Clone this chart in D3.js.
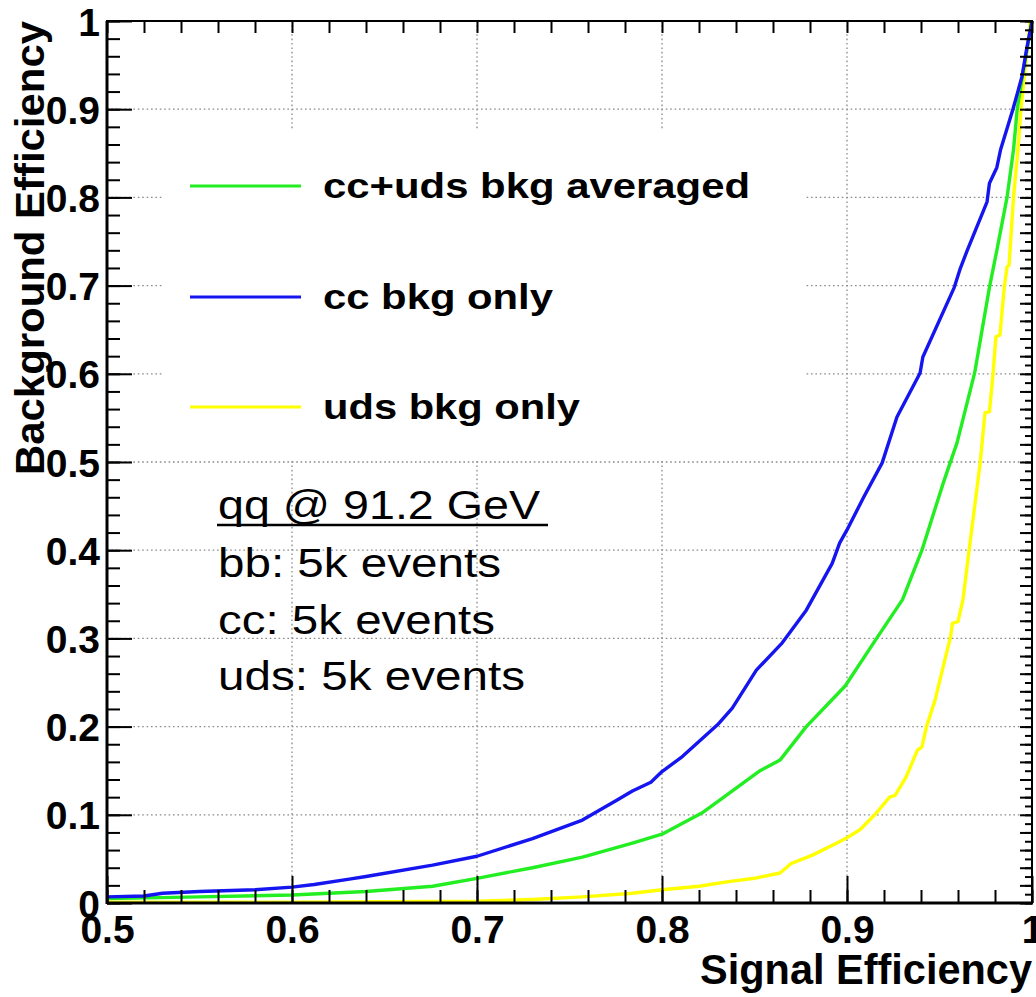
<!DOCTYPE html>
<html>
<head>
<meta charset="utf-8">
<script src="https://cdn.jsdelivr.net/npm/d3@7"></script>
<style>
  body { margin: 0; background: #fff; }
  svg { display: block; }
  .bold { font-family: "Liberation Sans", Arial, Helvetica, sans-serif; font-weight: bold; }
  .plain { font-family: "Liberation Sans", Arial, Helvetica, sans-serif; }
</style>
</head>
<body>
<svg id="chart"></svg>
<script>
// cc + uds background averaged (green)
var avgSig = [0.5, 0.55, 0.6, 0.64, 0.676, 0.70, 0.73, 0.757, 0.784, 0.80, 0.8215, 0.8314, 0.853, 0.8638, 0.878, 0.899, 0.916, 0.930, 0.9405, 0.952, 0.9595, 0.969, 0.977, 0.981, 0.9865, 0.990, 0.992, 0.995, 1.0];
var avgBkg = [0.005, 0.007, 0.009, 0.013, 0.019, 0.028, 0.040, 0.052, 0.068, 0.078, 0.102, 0.117, 0.150, 0.162, 0.200, 0.246, 0.300, 0.344, 0.400, 0.476, 0.522, 0.601, 0.698, 0.740, 0.800, 0.854, 0.900, 0.940, 1.0];

// cc background only (blue)
var ccSig = [0.5, 0.52, 0.53, 0.55, 0.58, 0.6, 0.612, 0.631, 0.64, 0.676, 0.70, 0.73, 0.757, 0.776, 0.784, 0.794, 0.80, 0.811, 0.83, 0.838, 0.851, 0.865, 0.878, 0.892, 0.896, 0.90, 0.909, 0.919, 0.927, 0.9395, 0.941, 0.958, 0.961, 0.965, 0.9757, 0.977, 0.981, 0.983, 0.9897, 0.9946, 0.997, 1.0];
var ccBkg = [0.007, 0.008, 0.011, 0.013, 0.015, 0.018, 0.021, 0.027, 0.030, 0.043, 0.053, 0.073, 0.094, 0.117, 0.127, 0.137, 0.149, 0.166, 0.202, 0.221, 0.264, 0.295, 0.332, 0.385, 0.408, 0.423, 0.460, 0.499, 0.551, 0.601, 0.619, 0.698, 0.718, 0.740, 0.795, 0.816, 0.834, 0.854, 0.900, 0.937, 0.967, 1.0];

// uds background only (yellow)
var udsSig = [0.5, 0.6, 0.70, 0.73, 0.757, 0.784, 0.80, 0.82, 0.835, 0.85, 0.8638, 0.87, 0.881, 0.8946, 0.90, 0.907, 0.915, 0.923, 0.926, 0.932, 0.938, 0.9405, 0.943, 0.9476, 0.952, 0.956, 0.957, 0.960, 0.9627, 0.966, 0.972, 0.9746, 0.977, 0.979, 0.9805, 0.9827, 0.985, 0.9865, 0.9876, 0.990, 0.9924, 0.994, 0.996, 0.999];
var udsBkg = [0.001, 0.001, 0.002, 0.004, 0.007, 0.011, 0.015, 0.019, 0.024, 0.028, 0.034, 0.045, 0.054, 0.068, 0.074, 0.083, 0.100, 0.120, 0.122, 0.143, 0.173, 0.177, 0.200, 0.230, 0.268, 0.302, 0.317, 0.319, 0.344, 0.400, 0.499, 0.556, 0.557, 0.601, 0.642, 0.644, 0.698, 0.721, 0.723, 0.800, 0.854, 0.900, 0.940, 1.0];

var seriesNames = ["cc+uds bkg averaged", "cc bkg only", "uds bkg only"];
var seriesColors = ["#22ee22", "#1515f0", "#ffff00"];

var xTicks = [0.5, 0.6, 0.7, 0.8, 0.9, 1.0];
var xTickLabels = ["0.5", "0.6", "0.7", "0.8", "0.9", "1"];
var yTicks = [0, 0.1, 0.2, 0.3, 0.4, 0.5, 0.6, 0.7, 0.8, 0.9, 1.0];
var yTickLabels = ["0", "0.1", "0.2", "0.3", "0.4", "0.5", "0.6", "0.7", "0.8", "0.9", "1"];

var infoLines = ["bb: 5k events", "cc: 5k events", "uds: 5k events"];

var width = 1036,
	height = 997,
	plotL = 107,
	plotR = 1032,
	plotT = 21,
	plotB = 903;

var svg = d3.select('#chart')
	.attr('width', width)
	.attr('height', height);

var x = d3.scaleLinear().domain([0.5, 1.0]).range([plotL, plotR]);
var y = d3.scaleLinear().domain([0, 1.0]).range([plotB, plotT]);

var minorX = d3.range(0, 26).map(function(i) { return 0.5 + i * 0.02; });
var minorY = d3.range(0, 51).map(function(i) { return i * 0.02; });
var fineY = d3.range(0, 101).map(function(i) { return i * 0.01; });

// grid
var grid = svg.append('g')
	.attr('stroke', '#8a8a8a')
	.attr('stroke-width', 1.3)
	.attr('stroke-dasharray', '1.6,2.8');
grid.selectAll('line.gx')
	.data(xTicks.slice(1, -1))
	.enter().append('line')
	.attr('x1', function(d) { return x(d); })
	.attr('x2', function(d) { return x(d); })
	.attr('y1', plotT)
	.attr('y2', plotB);
grid.selectAll('line.gy')
	.data(yTicks.slice(1, -1))
	.enter().append('line')
	.attr('y1', function(d) { return y(d); })
	.attr('y2', function(d) { return y(d); })
	.attr('x1', plotL)
	.attr('x2', plotR);

// legend box (white, hides the grid behind it)
svg.append('rect')
	.attr('x', 163)
	.attr('y', 131)
	.attr('width', 642)
	.attr('height', 329)
	.attr('fill', '#fff');

// curves
svg.append('clipPath').attr('id', 'frame')
	.append('rect')
	.attr('x', plotL).attr('y', plotT - 2)
	.attr('width', plotR - plotL + 2).attr('height', plotB - plotT + 2);

var line = d3.line()
	.x(function(d) { return x(d[0]); })
	.y(function(d) { return y(d[1]); });

var curves = [
	{sig: avgSig, bkg: avgBkg},
	{sig: ccSig, bkg: ccBkg},
	{sig: udsSig, bkg: udsBkg}
];
var drawOrder = [2, 0, 1];
drawOrder.forEach(function(k) {
	var pts = d3.zip(curves[k].sig, curves[k].bkg);
	svg.append('path')
		.datum(pts)
		.attr('clip-path', 'url(#frame)')
		.attr('fill', 'none')
		.attr('stroke', seriesColors[k])
		.attr('stroke-width', 3.4)
		.attr('stroke-linejoin', 'round')
		.attr('d', line);
});

// axes
function clean(g) {
	g.select('.domain').remove();
	g.selectAll('line').attr('stroke', '#000').attr('stroke-width', 2);
}

svg.append('g')
	.attr('transform', 'translate(0,' + plotB + ')')
	.call(d3.axisBottom(x).tickValues(minorX).tickSize(-13).tickFormat(''))
	.call(clean);
svg.append('g')
	.attr('class', 'bold')
	.attr('transform', 'translate(0,' + plotB + ')')
	.call(d3.axisBottom(x).tickValues(xTicks).tickSize(-27).tickPadding(12)
		.tickFormat(function(d, i) { return xTickLabels[i]; }))
	.call(clean)
	.selectAll('text')
	.attr('font-size', 39)
	.attr('fill', '#000');

svg.append('g')
	.attr('transform', 'translate(0,' + plotT + ')')
	.call(d3.axisTop(x).tickValues(minorX).tickSize(-12).tickFormat(''))
	.call(clean);

svg.append('g')
	.attr('transform', 'translate(' + plotL + ',0)')
	.call(d3.axisLeft(y).tickValues(minorY).tickSize(-13).tickFormat(''))
	.call(clean);
svg.append('g')
	.attr('class', 'bold')
	.attr('transform', 'translate(' + plotL + ',0)')
	.call(d3.axisLeft(y).tickValues(yTicks).tickSize(-25).tickPadding(7)
		.tickFormat(function(d, i) { return yTickLabels[i]; }))
	.call(clean)
	.selectAll('text')
	.attr('font-size', 39)
	.attr('dy', '0.36em')
	.attr('fill', '#000');

svg.append('g')
	.attr('transform', 'translate(' + plotR + ',0)')
	.call(d3.axisRight(y).tickValues(fineY).tickSize(-7).tickFormat(''))
	.call(clean);
svg.append('g')
	.attr('transform', 'translate(' + plotR + ',0)')
	.call(d3.axisRight(y).tickValues(minorY).tickSize(-12).tickFormat(''))
	.call(clean);

// frame
svg.append('rect')
	.attr('x', plotL)
	.attr('y', plotT)
	.attr('width', plotR - plotL)
	.attr('height', plotB - plotT)
	.attr('fill', 'none')
	.attr('stroke', '#000')
	.attr('stroke-width', 2);
svg.append('line')
	.attr('x1', plotL).attr('x2', plotL).attr('y1', plotT).attr('y2', plotB + 1)
	.attr('stroke', '#000').attr('stroke-width', 3);
svg.append('line')
	.attr('x1', plotL).attr('x2', plotR + 1).attr('y1', plotB).attr('y2', plotB)
	.attr('stroke', '#000').attr('stroke-width', 3);

// axis titles
svg.append('text')
	.attr('class', 'bold')
	.attr('x', plotR)
	.attr('y', 984)
	.attr('text-anchor', 'end')
	.attr('font-size', 43)
	.attr('textLength', 332)
	.attr('lengthAdjust', 'spacingAndGlyphs')
	.text('Signal Efficiency');

svg.append('text')
	.attr('class', 'bold')
	.attr('transform', 'translate(44,' + plotT + ') rotate(-90)')
	.attr('text-anchor', 'end')
	.attr('font-size', 41)
	.attr('textLength', 454)
	.attr('lengthAdjust', 'spacingAndGlyphs')
	.text('Background Efficiency');

// legend
var legendY = [186, 297, 407];
var legendW = [427, 230, 257];
var legend = svg.append('g');
seriesNames.forEach(function(name, i) {
	legend.append('line')
		.attr('x1', 190).attr('x2', 301)
		.attr('y1', legendY[i]).attr('y2', legendY[i])
		.attr('stroke', seriesColors[i])
		.attr('stroke-width', 3);
	legend.append('text')
		.attr('class', 'bold')
		.attr('x', 323)
		.attr('y', legendY[i] + 12)
		.attr('font-size', 35)
		.attr('textLength', legendW[i])
		.attr('lengthAdjust', 'spacingAndGlyphs')
		.text(name);
});

// annotation
svg.append('text')
	.attr('class', 'plain')
	.attr('x', 218)
	.attr('y', 519)
	.attr('font-size', 41)
	.attr('textLength', 322)
	.attr('lengthAdjust', 'spacingAndGlyphs')
	.text('qq @ 91.2 GeV');
svg.append('line')
	.attr('x1', 217).attr('x2', 548)
	.attr('y1', 525).attr('y2', 525)
	.attr('stroke', '#000').attr('stroke-width', 2.5);

var infoW = [283, 277, 307];
infoLines.forEach(function(t, i) {
	svg.append('text')
		.attr('class', 'plain')
		.attr('x', 218)
		.attr('y', 577 + i * 56.5)
		.attr('font-size', 41)
		.attr('textLength', infoW[i])
		.attr('lengthAdjust', 'spacingAndGlyphs')
		.text(t);
});
</script>
</body>
</html>
